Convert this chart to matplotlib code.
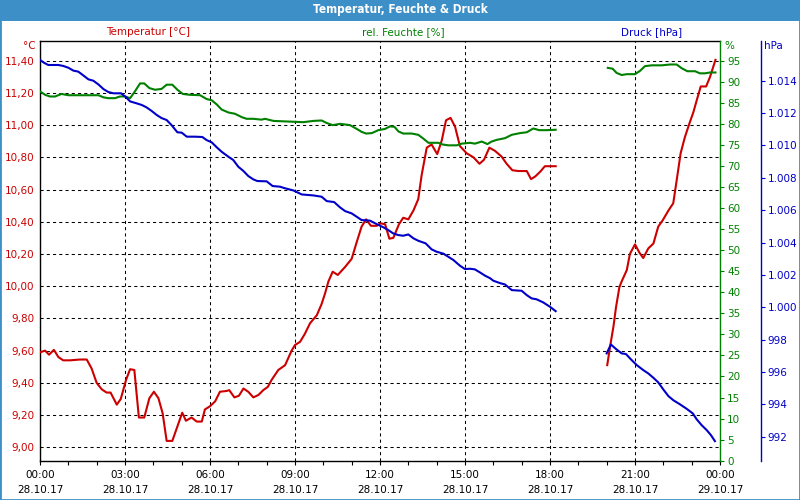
import matplotlib
matplotlib.use("Agg")
import matplotlib.pyplot as plt
from matplotlib.ticker import FixedLocator, FuncFormatter, MultipleLocator
from matplotlib.patches import Rectangle

# ---------------- data ----------------
title = "Temperatur, Feuchte & Druck"
series_names = ["Temperatur [°C]", "rel. Feuchte [%]", "Druck [hPa]"]
x_tick_hours = [0, 3, 6, 9, 12, 15, 18, 21, 24]
x_tick_labels = ["00:00\n28.10.17", "03:00\n28.10.17", "06:00\n28.10.17",
                 "09:00\n28.10.17", "12:00\n28.10.17", "15:00\n28.10.17",
                 "18:00\n28.10.17", "21:00\n28.10.17", "00:00\n29.10.17"]
temp_ticks = [9.0, 9.2, 9.4, 9.6, 9.8, 10.0, 10.2, 10.4, 10.6, 10.8, 11.0, 11.2, 11.4]
hum_ticks = list(range(0, 100, 5))
pres_ticks = list(range(992, 1015, 2))

temp_h1 = [0.00, 0.18, 0.32, 0.49, 0.65, 0.82, 1.06, 1.41, 1.65, 1.82, 2.00, 2.18, 2.35, 2.49,
           2.71, 2.85, 3.04, 3.18, 3.33, 3.49, 3.68, 3.86, 4.02, 4.18, 4.33, 4.47, 4.67, 4.85,
           5.02, 5.15, 5.35, 5.53, 5.71, 5.82, 6.00, 6.18, 6.35, 6.59, 6.68, 6.86, 7.02, 7.18,
           7.35, 7.53, 7.71, 7.88, 8.04, 8.18, 8.41, 8.65, 8.88, 9.00, 9.18, 9.35, 9.53, 9.77,
           9.94, 10.06, 10.18, 10.33, 10.51, 10.77, 11.00, 11.18, 11.35, 11.51, 11.68, 11.88,
           12.02, 12.18, 12.33, 12.47, 12.67, 12.82, 13.00, 13.18, 13.35, 13.47, 13.65, 13.82,
           14.02, 14.18, 14.33, 14.49, 14.65, 14.82, 15.06, 15.30, 15.51, 15.67, 15.86, 16.06,
           16.29, 16.47, 16.67, 16.88, 17.18, 17.33, 17.47, 17.65, 17.82, 18.20]
temp_v1 = [9.59, 9.60, 9.575, 9.605, 9.56, 9.54, 9.54, 9.545, 9.545, 9.49, 9.40, 9.36, 9.34, 9.34,
           9.265, 9.30, 9.42, 9.485, 9.48, 9.185, 9.185, 9.305, 9.345, 9.305, 9.21, 9.04, 9.04, 9.13,
           9.215, 9.165, 9.185, 9.16, 9.16, 9.235, 9.255, 9.285, 9.345, 9.35, 9.355, 9.31, 9.32, 9.365,
           9.345, 9.31, 9.325, 9.355, 9.375, 9.42, 9.48, 9.51, 9.60, 9.635, 9.655, 9.705, 9.77, 9.82,
           9.89, 9.955, 10.03, 10.09, 10.07, 10.12, 10.17, 10.275, 10.37, 10.415, 10.375, 10.375,
           10.39, 10.385, 10.295, 10.30, 10.385, 10.425, 10.415, 10.47, 10.54, 10.69, 10.86, 10.88,
           10.82, 10.905, 11.03, 11.045, 10.99, 10.87, 10.825, 10.80, 10.76, 10.785, 10.86, 10.84,
           10.805, 10.76, 10.72, 10.715, 10.715, 10.665, 10.68, 10.71, 10.745, 10.745]
temp_h2 = [20.02, 20.12, 20.24, 20.33, 20.45, 20.53, 20.71, 20.82, 21.00, 21.15, 21.29, 21.47,
           21.65, 21.82, 21.98, 22.18, 22.35, 22.49, 22.61, 22.76, 22.92, 23.06, 23.18, 23.32,
           23.51, 23.65, 23.74, 23.84]
temp_v2 = [9.51, 9.625, 9.75, 9.87, 9.995, 10.03, 10.10, 10.20, 10.26, 10.21, 10.175, 10.235,
           10.265, 10.37, 10.41, 10.47, 10.515, 10.68, 10.825, 10.925, 11.01, 11.08, 11.155, 11.24,
           11.24, 11.30, 11.35, 11.405]

hum_h1 = [0.00, 0.18, 0.35, 0.53, 0.76, 1.00, 1.53, 2.06, 2.24, 2.41, 2.65, 2.82, 3.00, 3.18,
          3.35, 3.53, 3.68, 3.86, 4.06, 4.29, 4.47, 4.67, 4.85, 5.04, 5.29, 5.65, 5.88, 6.06,
          6.24, 6.41, 6.65, 6.88, 7.12, 7.29, 7.53, 7.82, 7.94, 8.24, 8.94, 9.29, 9.65, 9.94,
          10.12, 10.33, 10.59, 10.94, 11.18, 11.35, 11.51, 11.71, 11.94, 12.18, 12.35, 12.51,
          12.65, 12.82, 13.12, 13.35, 13.53, 13.71, 14.06, 14.21, 14.41, 14.71, 14.88, 15.18,
          15.35, 15.59, 15.79, 15.94, 16.12, 16.41, 16.65, 16.94, 17.18, 17.41, 17.62, 17.88, 18.20]
hum_v1 = [87.7, 86.9, 86.5, 86.5, 87.1, 86.8, 86.8, 86.8, 86.3, 86.1, 86.1, 86.5, 86.5, 86.1,
          87.7, 89.6, 89.6, 88.5, 88.1, 88.3, 89.3, 89.3, 88.1, 87.1, 86.9, 86.8, 85.9, 85.6,
          84.6, 83.4, 82.7, 82.4, 81.6, 81.2, 81.2, 81.0, 81.2, 80.7, 80.5, 80.4, 80.7, 80.8,
          80.2, 79.7, 80.0, 79.7, 78.8, 78.1, 77.7, 77.8, 78.5, 78.8, 79.4, 79.3,
          78.2, 77.7, 77.7, 77.4, 76.5, 75.5, 75.5, 75.1, 74.9, 74.9, 75.3, 75.5,
          75.3, 75.8, 75.2, 75.8, 76.2, 76.6, 77.4, 77.8, 78.0, 78.9, 78.5, 78.5, 78.6]
hum_h2 = [20.04, 20.21, 20.35, 20.53, 20.71, 21.00, 21.18, 21.35, 21.59, 21.94, 22.24, 22.47,
          22.65, 22.85, 23.12, 23.29, 23.47, 23.65, 23.84]
hum_v2 = [93.3, 93.1, 92.1, 91.6, 91.8, 91.8, 92.6, 93.7, 93.9, 93.9, 94.1, 94.1,
          93.2, 92.5, 92.5, 92.0, 92.0, 92.2, 92.2]

pres_h1 = [0.00, 0.14, 0.29, 0.65, 0.82, 1.00, 1.18, 1.35, 1.51, 1.71, 1.88, 2.06, 2.24, 2.41,
           2.59, 2.86, 3.04, 3.18, 3.41, 3.59, 3.76, 3.94, 4.12, 4.29, 4.47, 4.65, 4.85, 5.00,
           5.18, 5.47, 5.73, 5.88, 6.06, 6.24, 6.41, 6.65, 6.82, 7.00, 7.18, 7.35, 7.53, 7.67,
           8.00, 8.21, 8.47, 8.65, 8.94, 9.24, 9.65, 9.94, 10.12, 10.38, 10.59, 10.77, 11.00,
           11.18, 11.35, 11.65, 11.88, 12.12, 12.29, 12.47, 12.65, 12.82, 13.00, 13.18, 13.35,
           13.61, 13.82, 14.00, 14.24, 14.41, 14.59, 14.82, 15.00, 15.18, 15.35, 15.53, 15.71,
           15.88, 16.00, 16.24, 16.41, 16.65, 17.00, 17.18, 17.35, 17.53, 17.76, 18.00, 18.20]
pres_v1 = [1015.28, 1015.11, 1014.97, 1014.97, 1014.91, 1014.80, 1014.62, 1014.56, 1014.35,
           1014.08, 1014.00, 1013.77, 1013.48, 1013.30, 1013.22, 1013.22, 1012.97, 1012.72,
           1012.60, 1012.50, 1012.35, 1012.13, 1011.88, 1011.69, 1011.57, 1011.24, 1010.81,
           1010.79, 1010.54, 1010.54, 1010.52, 1010.33, 1010.19, 1009.88, 1009.61, 1009.30,
           1009.10, 1008.68, 1008.42, 1008.11, 1007.90, 1007.80, 1007.78, 1007.49, 1007.45,
           1007.35, 1007.22, 1006.97, 1006.91, 1006.83, 1006.56, 1006.50, 1006.17, 1005.94,
           1005.80, 1005.59, 1005.39, 1005.35, 1005.14, 1004.94, 1004.77, 1004.56, 1004.46,
           1004.42, 1004.50, 1004.26, 1004.11, 1003.95, 1003.58, 1003.43, 1003.31, 1003.12,
           1002.92, 1002.57, 1002.36, 1002.38, 1002.34, 1002.15, 1001.95, 1001.80, 1001.64,
           1001.49, 1001.41, 1001.06, 1001.02, 1000.75, 1000.55, 1000.49, 1000.30, 1000.03, 999.76]
pres_h2 = [20.00, 20.15, 20.33, 20.53, 20.68, 20.88, 21.06, 21.29, 21.47, 21.65, 21.82, 22.00,
           22.18, 22.35, 22.59, 22.82, 23.04, 23.18, 23.35, 23.53, 23.68, 23.82]
pres_v2 = [997.15, 997.70, 997.42, 997.15, 997.11, 996.74, 996.43, 996.12, 995.91, 995.64,
           995.36, 994.92, 994.51, 994.26, 994.00, 993.73, 993.44, 993.07, 992.72, 992.41,
           992.10, 991.73]

# ---------------- style ----------------
RED = "#cc0000"
GREEN = "#008000"
BLUE = "#0000c8"
FRAME = "#3d8fc8"
FS = 7.5
plt.rcParams["font.family"] = ["DejaVu Sans"]

W, H = 800, 500
fig = plt.figure(figsize=(8, 5), dpi=100)
fig.patch.set_facecolor("white")

def fx(px):
    return px / W

def fy(py):
    return 1 - py / H

left_px, right_px, top_px, bot_px = 40, 720, 40.7, 460.7
ax = fig.add_axes([fx(left_px), fy(bot_px), fx(right_px - left_px), (bot_px - top_px) / H])
ax.set_facecolor("white")

# temperature axis
ax.set_xlim(0, 24)
ax.set_ylim(8.917, 11.524)
ax.yaxis.set_major_locator(FixedLocator(temp_ticks))
ax.yaxis.set_major_formatter(FuncFormatter(lambda v, p: f"{v:.2f}".replace(".", ",")))
ax.tick_params(axis="y", length=0, pad=4, labelcolor=RED, labelsize=FS)
ax.xaxis.set_major_locator(FixedLocator(x_tick_hours))
ax.set_xticklabels(x_tick_labels, fontsize=FS, linespacing=1.55)
ax.xaxis.set_minor_locator(MultipleLocator(1))
ax.tick_params(axis="x", which="both", length=3, width=0.8, direction="out", pad=4,
               colors="black")
ax.grid(True, which="major", color="black", linestyle=(0, (3, 3)), linewidth=0.75)
for s in ["left", "bottom", "top"]:
    ax.spines[s].set_color("black")
    ax.spines[s].set_linewidth(1.0)
ax.spines["right"].set_visible(False)

ax.plot(temp_h1, temp_v1, color=RED, lw=1.5, zorder=3)
ax.plot(temp_h2, temp_v2, color=RED, lw=1.5, zorder=3)

# humidity axis
ax2 = ax.twinx()
ax2.set_ylim(0, 99.75)
ax2.yaxis.set_major_locator(FixedLocator(hum_ticks))
ax2.tick_params(axis="y", length=3, width=0.8, direction="out", pad=2, colors=GREEN,
                labelsize=FS)
for s in ["left", "bottom", "top"]:
    ax2.spines[s].set_visible(False)
ax2.spines["right"].set_color(GREEN)
ax2.spines["right"].set_linewidth(1.0)
ax2.plot(hum_h1, hum_v1, color=GREEN, lw=1.5)
ax2.plot(hum_h2, hum_v2, color=GREEN, lw=1.5)

# pressure axis
ax3 = ax.twinx()
ax3.set_ylim(990.52, 1016.47)
ax3.spines["right"].set_position(("axes", (760.7 - left_px) / (right_px - left_px)))
for s in ["left", "bottom", "top"]:
    ax3.spines[s].set_visible(False)
ax3.spines["right"].set_color(BLUE)
ax3.spines["right"].set_linewidth(1.0)
ax3.yaxis.set_major_locator(FixedLocator(pres_ticks))
ax3.yaxis.set_major_formatter(FuncFormatter(lambda v, p: f"{v:,.0f}".replace(",", ".")))
ax3.tick_params(axis="y", length=3, width=0.8, direction="out", pad=2, colors=BLUE,
                labelsize=FS)
ax3.plot(pres_h1, pres_v1, color=BLUE, lw=1.5)
ax3.plot(pres_h2, pres_v2, color=BLUE, lw=1.5)

# unit labels
fig.text(fx(36), fy(46), "°C", color=RED, fontsize=FS, ha="right", va="center")
fig.text(fx(724), fy(46), "%", color=GREEN, fontsize=FS, ha="left", va="center")
fig.text(fx(764), fy(46), "hPa", color=BLUE, fontsize=FS, ha="left", va="center")

# series headers
for name, xc, col in zip(series_names, [148, 403, 652], [RED, GREEN, BLUE]):
    fig.text(fx(xc), fy(32), name, color=col, fontsize=FS, ha="center", va="center")

# title bar and frame
fig.patches.append(Rectangle((0, fy(20.7)), 1, 20.7 / H, transform=fig.transFigure,
                             facecolor=FRAME, edgecolor="none", zorder=0))
fig.text(0.5, fy(10), title, color="white", fontsize=8.5, fontweight="bold",
         fontstretch="condensed", ha="center", va="center")
fig.patches.append(Rectangle((0, 0), 1, 1, transform=fig.transFigure, fill=False,
                             edgecolor=FRAME, linewidth=2.0, zorder=10))

fig.savefig("out.png", dpi=100)
